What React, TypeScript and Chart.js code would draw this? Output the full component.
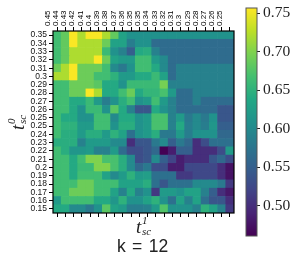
import React, { useEffect, useRef } from "react";
import { Chart, registerables } from "chart.js";

Chart.register(...registerables);

const xLabels = ["0.45","0.44","0.43","0.42","0.41","0.4","0.39","0.38","0.37","0.36","0.35","0.35","0.34","0.33","0.32","0.31","0.3","0.29","0.28","0.27","0.26","0.25"];
const yLabels = ["0.35","0.34","0.33","0.32","0.31","0.3","0.29","0.28","0.27","0.26","0.25","0.25","0.24","0.23","0.22","0.21","0.2","0.19","0.18","0.17","0.16","0.15"];

const cells: number[][] = [
  [.665,.685,.755,.72,.755,.755,.72,.685,.63,.61,.61,.61,.61,.61,.61,.61,.61,.61,.61,.61,.61,.61],
  [.665,.685,.755,.72,.72,.72,.69,.63,.63,.585,.61,.61,.565,.565,.565,.565,.565,.565,.565,.565,.565,.565],
  [.665,.685,.72,.72,.72,.72,.66,.61,.59,.55,.64,.645,.59,.565,.565,.565,.565,.565,.565,.565,.565,.565],
  [.665,.685,.72,.72,.72,.755,.69,.63,.62,.62,.665,.665,.62,.6,.565,.565,.565,.565,.565,.565,.565,.565],
  [.69,.72,.755,.69,.69,.69,.665,.6,.58,.61,.665,.665,.64,.6,.565,.59,.59,.59,.59,.59,.59,.59],
  [.72,.72,.755,.69,.69,.665,.665,.65,.62,.62,.64,.64,.66,.63,.565,.59,.59,.59,.59,.59,.59,.59],
  [.665,.665,.69,.69,.69,.68,.64,.64,.61,.66,.66,.66,.66,.695,.59,.59,.59,.59,.59,.59,.59,.59],
  [.665,.665,.69,.69,.755,.72,.64,.64,.665,.69,.64,.655,.655,.67,.62,.565,.565,.59,.59,.59,.59,.59],
  [.665,.665,.64,.64,.66,.62,.585,.61,.645,.665,.61,.62,.665,.62,.59,.565,.565,.59,.565,.565,.565,.565],
  [.665,.665,.64,.61,.66,.66,.61,.68,.64,.59,.54,.54,.64,.61,.59,.565,.565,.565,.565,.565,.54,.54],
  [.665,.64,.64,.61,.61,.665,.665,.6,.64,.64,.61,.62,.67,.67,.59,.62,.58,.6,.58,.61,.54,.54],
  [.665,.65,.65,.62,.62,.665,.665,.61,.645,.645,.61,.62,.67,.67,.59,.64,.585,.6,.585,.615,.55,.55],
  [.665,.645,.645,.62,.645,.645,.62,.65,.63,.57,.61,.62,.645,.58,.58,.62,.585,.61,.61,.61,.56,.56],
  [.645,.645,.645,.59,.62,.62,.62,.6,.6,.5,.54,.54,.58,.6,.55,.58,.56,.5,.53,.57,.57,.57],
  [.665,.645,.615,.615,.62,.59,.59,.62,.565,.53,.53,.54,.56,.46,.485,.55,.55,.5,.5,.5,.53,.62],
  [.665,.665,.64,.665,.7,.7,.67,.67,.645,.6,.53,.54,.6,.55,.52,.485,.5,.5,.5,.54,.56,.53],
  [.665,.665,.64,.66,.66,.7,.7,.67,.645,.6,.56,.58,.53,.53,.485,.485,.525,.525,.525,.525,.5,.475],
  [.665,.665,.64,.665,.665,.665,.63,.6,.62,.65,.62,.625,.57,.57,.57,.51,.51,.525,.525,.525,.5,.475],
  [.665,.665,.665,.69,.69,.665,.665,.665,.63,.63,.63,.645,.57,.54,.57,.57,.57,.6,.6,.6,.58,.51],
  [.665,.665,.69,.69,.69,.665,.665,.63,.59,.64,.59,.61,.51,.62,.62,.61,.63,.63,.59,.55,.5,.48],
  [.62,.665,.665,.665,.665,.64,.64,.615,.65,.61,.61,.63,.65,.61,.57,.63,.59,.63,.57,.54,.54,.5],
  [.64,.64,.6,.6,.58,.61,.68,.63,.62,.585,.585,.59,.62,.675,.61,.61,.61,.59,.65,.63,.59,.51],
];

const colorbarTicks = [0.5, 0.55, 0.6, 0.65, 0.7, 0.75];
const vMin = 0.461;
const vMax = 0.7565;

const viridis = ["#440154","#482475","#414487","#355f8d","#2a788e","#21918c","#22a884","#44bf70","#7ad151","#bddf26","#fde725"];

function hexRgb(h: string) {
  return [1, 3, 5].map((i) => parseInt(h.slice(i, i + 2), 16));
}
function colorOf(v: number) {
  const t = Math.max(0, Math.min(1, (v - vMin) / (vMax - vMin))) * (viridis.length - 1);
  const i = Math.min(viridis.length - 2, Math.floor(t));
  const a = hexRgb(viridis[i]);
  const b = hexRgb(viridis[i + 1]);
  const f = t - i;
  return `rgb(${a.map((c, k) => Math.round(c + (b[k] - c) * f)).join(",")})`;
}

const framePlugin = {
  id: "frame",
  afterDatasetsDraw(chart: any, _a: any, opts: any) {
    const { ctx, chartArea: c } = chart;
    ctx.save();
    ctx.strokeStyle = opts.color || "#000";
    ctx.lineWidth = opts.width || 1.2;
    ctx.strokeRect(c.left, c.top, c.right - c.left, c.bottom - c.top);
    ctx.restore();
  },
};

const fit = (prop: "width" | "height", size: number) => (scale: any) => {
  scale[prop] = size;
  scale.paddingTop = 0;
  scale.paddingBottom = 0;
  scale.paddingLeft = 0;
  scale.paddingRight = 0;
};

export default function App() {
  const heat = useRef<HTMLCanvasElement>(null);
  const bar = useRef<HTMLCanvasElement>(null);

  useEffect(() => {
    const n = yLabels.length;
    const heatChart = new Chart(heat.current!, {
      type: "bar",
      data: {
        labels: xLabels,
        datasets: cells.map((row) => row).reverse().map((row) => ({
          data: row.map(() => 1),
          backgroundColor: row.map(colorOf),
          barPercentage: 1,
          categoryPercentage: 1,
          borderWidth: 0,
          stack: "s",
          xAxisID: "x",
          yAxisID: "y",
        })),
      },
      options: {
        responsive: false,
        animation: false,
        layout: { padding: { left: 0, right: 66, top: 0, bottom: 0 } },
        plugins: { legend: { display: false }, tooltip: { enabled: false }, frame: { width: 1.2 } } as any,
        scales: {
          x: {
            type: "category",
            position: "bottom",
            stacked: true,
            afterFit: fit("height", 51),
            grid: { drawOnChartArea: false, drawTicks: true, tickLength: 4, tickColor: "#000", offset: false },
            border: { display: false },
            ticks: { display: false },
          },
          x2: {
            type: "category",
            position: "top",
            labels: xLabels,
            afterFit: fit("height", 31),
            grid: { drawOnChartArea: false, drawTicks: true, tickLength: 4, tickColor: "#000", offset: false },
            border: { display: false },
            ticks: { autoSkip: false, minRotation: 90, maxRotation: 90, padding: 1, color: "#000", font: { family: "Liberation Sans", size: 8 } },
          },
          y: {
            type: "linear",
            stacked: true,
            min: 0,
            max: n,
            afterFit: fit("width", 53),
            afterBuildTicks: (s: any) => {
              s.ticks = yLabels.map((_, i) => ({ value: n - 0.5 - i }));
            },
            grid: { drawOnChartArea: false, drawTicks: true, tickLength: 4, tickColor: "#000" },
            border: { display: false },
            ticks: {
              autoSkip: false,
              padding: 2,
              color: "#111",
              font: { family: "Liberation Sans", size: 8.5 },
              callback: (v: any) => yLabels[Math.round(n - 0.5 - Number(v))],
            },
          },
        },
      } as any,
      plugins: [framePlugin],
    });

    const barChart = new Chart(bar.current!, {
      type: "bar",
      data: {
        labels: ["c"],
        datasets: [
          {
            data: [[vMin, vMax]] as any,
            barPercentage: 1,
            categoryPercentage: 1,
            borderWidth: 0,
            backgroundColor: (ctx: any) => {
              const { chart } = ctx;
              const a = chart.chartArea;
              if (!a) return viridis[0];
              const g = chart.ctx.createLinearGradient(0, a.bottom, 0, a.top);
              viridis.forEach((c, i) => g.addColorStop(i / (viridis.length - 1), c));
              return g;
            },
          },
        ],
      },
      options: {
        responsive: false,
        animation: false,
        layout: { padding: { left: 1, right: 0, top: 8, bottom: 28 } },
        plugins: { legend: { display: false }, tooltip: { enabled: false }, frame: { width: 1, color: "#555" } } as any,
        scales: {
          x: { display: false },
          y: {
            type: "linear",
            position: "right",
            min: vMin,
            max: vMax,
            afterFit: fit("width", 43),
            afterBuildTicks: (s: any) => {
              s.ticks = colorbarTicks.map((value) => ({ value }));
            },
            grid: { drawOnChartArea: false, drawTicks: true, tickLength: 3, tickColor: "#222" },
            border: { display: false },
            ticks: {
              padding: 3,
              color: "#222",
              font: { family: "Liberation Serif", size: 15.5 },
              callback: (v: any) => Number(v).toFixed(2),
            },
          },
        },
      } as any,
      plugins: [framePlugin],
    });

    return () => {
      heatChart.destroy();
      barChart.destroy();
    };
  }, []);

  const math: React.CSSProperties = { position: "absolute", fontFamily: "Liberation Serif", fontStyle: "italic", fontSize: 19, color: "#222", lineHeight: 1, whiteSpace: "nowrap", width: 20, height: 20 };
  const script: React.CSSProperties = { position: "absolute", fontSize: 11 };

  return (
    <div style={{ position: "absolute", left: 0, top: 0, width: 300, height: 264, background: "#fff", overflow: "hidden" }}>
      <canvas ref={heat} width={300} height={264} style={{ position: "absolute", left: 0, top: 0 }} />
      <canvas ref={bar} width={55} height={264} style={{ position: "absolute", left: 245, top: 0 }} />
      <div style={{ ...math, left: 136, top: 217 }}>
        t<span style={{ ...script, left: 6, top: -2 }}>1</span>
        <span style={{ ...script, left: 6, top: 9 }}>sc</span>
      </div>
      <div style={{ ...math, left: 8, top: 110, transform: "rotate(-90deg)", transformOrigin: "center" }}>
        t<span style={{ ...script, left: 6, top: -2 }}>0</span>
        <span style={{ ...script, left: 6, top: 9 }}>sc</span>
      </div>
      <div style={{ position: "absolute", left: 117, top: 238, fontFamily: "Liberation Sans", fontSize: 17.5, wordSpacing: 1.5, color: "#222", lineHeight: 1, whiteSpace: "nowrap" }}>k = 12</div>
    </div>
  );
}
